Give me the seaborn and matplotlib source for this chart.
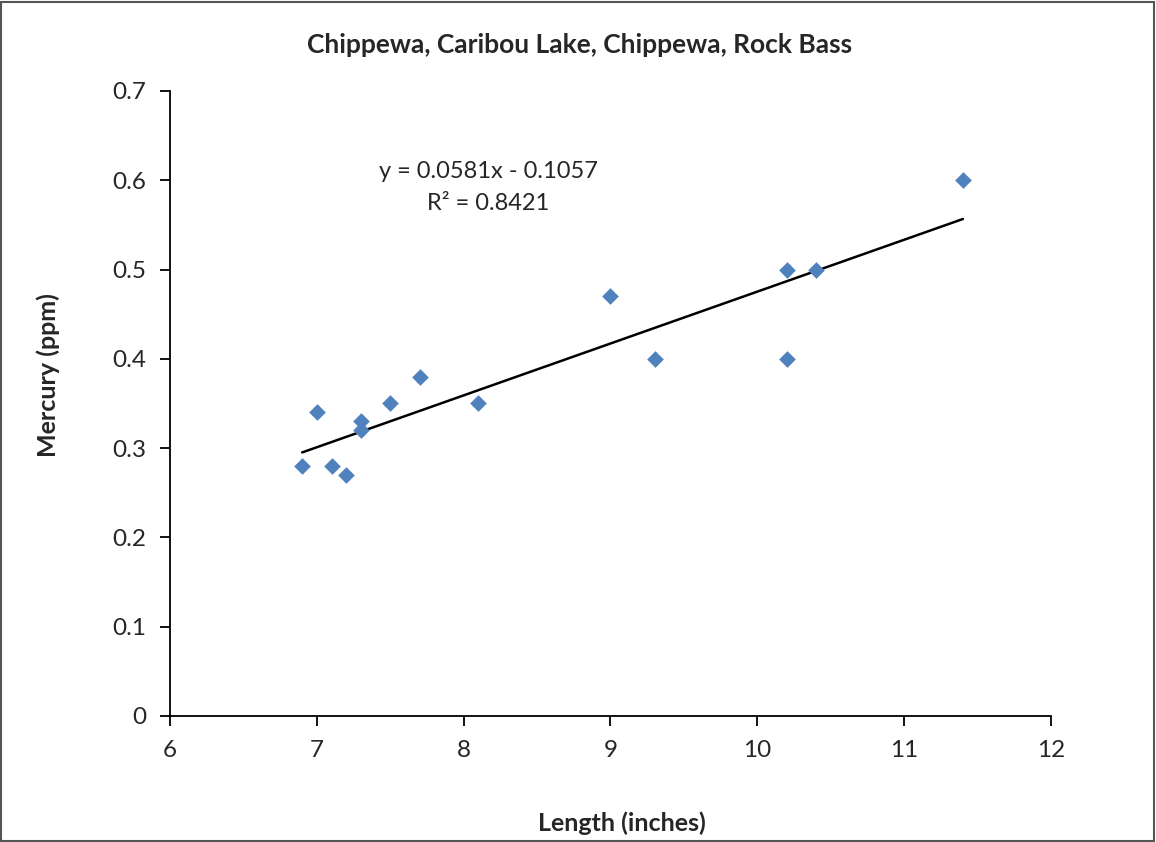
import numpy as np
import pandas as pd
import matplotlib
matplotlib.use("Agg")
import matplotlib.pyplot as plt
import seaborn as sns
from matplotlib.patches import Rectangle

# ----------------- DATA -----------------
length_in = [6.9, 7.0, 7.1, 7.2, 7.3, 7.3, 7.5, 7.7, 8.1, 9.0, 9.3, 10.2, 10.2, 10.4, 11.4]
mercury_ppm = [0.28, 0.34, 0.28, 0.27, 0.33, 0.32, 0.35, 0.38, 0.35, 0.47, 0.40, 0.50, 0.40, 0.50, 0.60]
slope = 0.0581
intercept = -0.1057
r_squared = 0.8421
x_ticks = [6, 7, 8, 9, 10, 11, 12]
y_ticks = [0, 0.1, 0.2, 0.3, 0.4, 0.5, 0.6, 0.7]
y_tick_labels = ["0", "0.1", "0.2", "0.3", "0.4", "0.5", "0.6", "0.7"]
TITLE = "Chippewa, Caribou Lake, Chippewa, Rock Bass"
# ----------------------------------------

sns.set_style("white")
plt.rcParams["font.family"] = ["Lato", "DejaVu Sans"]

W, H = 1156, 842
fig = plt.figure(figsize=(W / 100, H / 100), dpi=100)
ax = fig.add_axes([170 / W, 1 - 716 / H, (1051 - 170) / W, (716 - 91) / H])

df = pd.DataFrame({"length": length_in, "mercury": mercury_ppm})
sns.scatterplot(data=df, x="length", y="mercury", ax=ax, marker="D", s=72,
                color="#4F81BD", edgecolor="#4F81BD", linewidth=0, zorder=3)

# linear trendline over the data range
xs = np.array([min(length_in), max(length_in)])
sns.lineplot(x=xs, y=slope * xs + intercept, ax=ax, color="black", linewidth=1.8, zorder=2)

ax.set_xlim(6, 12)
ax.set_ylim(0, 0.7)
ax.set_xticks(x_ticks)
ax.set_yticks(y_ticks)
ax.set_yticklabels(y_tick_labels)
ax.tick_params(axis="both", direction="out", length=7, width=1.3, color="black",
               labelsize=17.5, pad=10, left=True, bottom=True)
ax.set_xlabel("")
ax.set_ylabel("")
for side in ["top", "right"]:
    ax.spines[side].set_visible(False)
for side in ["left", "bottom"]:
    ax.spines[side].set_color("black")
    ax.spines[side].set_linewidth(1.3)

sign = "-" if intercept < 0 else "+"
fig.text(488 / W, 1 - 172 / H, f"y = {slope:.4f}x {sign} {abs(intercept):.4f}",
         ha="center", va="center", fontsize=17)
fig.text(488 / W, 1 - 204 / H, f"R² = {r_squared:.4f}", ha="center", va="center", fontsize=17)

fig.text(580 / W, 1 - 45 / H, TITLE, ha="center", va="center", fontsize=19, fontweight="bold")
fig.text(622 / W, 1 - 823 / H, "Length (inches)", ha="center", va="center", fontsize=18, fontweight="bold")
fig.text(48 / W, 1 - 375 / H, "Mercury (ppm)", ha="center", va="center", rotation=90,
         fontsize=18, fontweight="bold")

# outer chart border
fig.patches.append(Rectangle((1 / W, 1 / H), 1 - 3 / W, 1 - 3 / H, transform=fig.transFigure,
                             fill=False, edgecolor="#555555", linewidth=1.5))

fig.savefig("out.png", dpi=100)
